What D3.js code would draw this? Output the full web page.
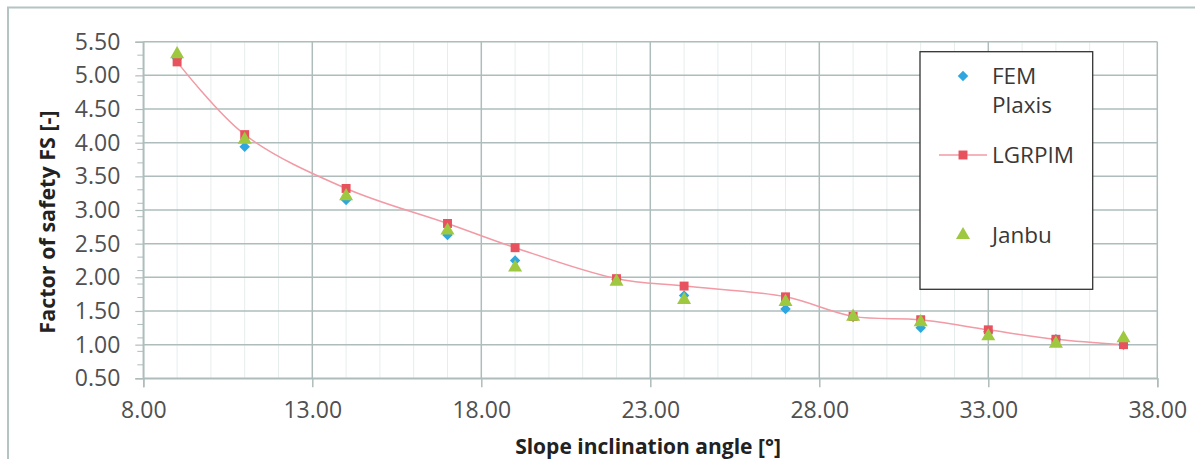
<!DOCTYPE html>
<html>
<head>
<meta charset="utf-8">
<script src="https://cdn.jsdelivr.net/npm/d3@7"></script>
<style>
  html, body { margin: 0; padding: 0; background: #fff; }
  svg { display: block; }
  text { font-family: "Open Sans", "DejaVu Sans", sans-serif; }
</style>
</head>
<body>
<svg id="chart" width="1195" height="459"></svg>
<script>
// ---- data ----
const angles = [9, 11, 14, 17, 19, 22, 24, 27, 29, 31, 33, 35, 37];
const femPlaxis = [5.25, 3.94, 3.15, 2.63, 2.25, 1.97, 1.73, 1.53, 1.41, 1.25, 1.19, 1.08, 1.00];
const lgrpim    = [5.20, 4.12, 3.32, 2.80, 2.44, 1.98, 1.87, 1.71, 1.42, 1.37, 1.22, 1.08, 1.00];
const janbu     = [5.30, 4.03, 3.19, 2.68, 2.13, 1.92, 1.65, 1.62, 1.40, 1.32, 1.11, 1.00, 1.08];
const xTicks = [8, 13, 18, 23, 28, 33, 38];
const yTicks = [0.5, 1.0, 1.5, 2.0, 2.5, 3.0, 3.5, 4.0, 4.5, 5.0, 5.5];
const seriesNames = ["FEM\nPlaxis", "LGRPIM", "Janbu"];
const xTitle = "Slope inclination angle [°]";
const yTitle = "Factor of safety FS [-]";

// ---- layout ----
const svg = d3.select("#chart");
const L = 143.3, R = 1157.3, T = 41.7, B = 378.3;
const x = d3.scaleLinear().domain([8, 38]).range([L, R]);
const y = d3.scaleLinear().domain([0.5, 5.5]).range([B, T]);

const gridCol = "#aebdbc";
const blue = "#2ea6df", red = "#e8525e", green = "#9dc83f", lineCol = "#f29aa5";
const tickFont = 23;

// outer frame (cropped at right/bottom)
svg.append("rect").attr("x", 8).attr("y", 7.5).attr("width", 1300).attr("height", 600)
  .attr("fill", "none").attr("stroke", "#b3c4c2").attr("stroke-width", 2);

// minor vertical gridlines
const minorX = d3.range(9, 38, 1).filter(v => (v - 8) % 5 !== 0);
svg.append("g").selectAll("line").data(minorX).join("line")
  .attr("x1", d => x(d)).attr("x2", d => x(d)).attr("y1", T).attr("y2", B)
  .attr("stroke", "#e6eded").attr("stroke-width", 1);

// major gridlines
svg.append("g").selectAll("line").data(yTicks).join("line")
  .attr("x1", L).attr("x2", R).attr("y1", d => y(d)).attr("y2", d => y(d))
  .attr("stroke", gridCol).attr("stroke-width", 1.5);
svg.append("g").selectAll("line").data(xTicks).join("line")
  .attr("x1", d => x(d)).attr("x2", d => x(d)).attr("y1", T).attr("y2", B)
  .attr("stroke", gridCol).attr("stroke-width", 1.5);

// y axis
const yAxis = d3.axisLeft(y).tickValues(yTicks).tickFormat(d3.format(".2f")).tickSize(8).tickPadding(15);
const gy = svg.append("g").attr("transform", `translate(${L},0)`).call(yAxis);
gy.select(".domain").attr("stroke", gridCol).attr("stroke-width", 1.5);
gy.selectAll(".tick line").attr("stroke", gridCol).attr("stroke-width", 1.2);
gy.selectAll(".tick text").attr("font-size", tickFont).attr("fill", "#505050")
  .attr("font-family", '"Open Sans", sans-serif');
// y minor ticks every 0.2
const yMinor = d3.range(0.7, 5.5, 0.2).map(v => +v.toFixed(2)).filter(v => Math.abs((v * 2) - Math.round(v * 2)) > 1e-6);
svg.append("g").selectAll("line").data(yMinor).join("line")
  .attr("x1", L - 6).attr("x2", L).attr("y1", d => y(d)).attr("y2", d => y(d))
  .attr("stroke", gridCol).attr("stroke-width", 1);

// x axis
const xAxis = d3.axisBottom(x).tickValues(xTicks).tickFormat(d3.format(".2f")).tickSize(9).tickPadding(14);
const gx = svg.append("g").attr("transform", `translate(0,${B})`).call(xAxis);
gx.select(".domain").attr("stroke", gridCol).attr("stroke-width", 1.5);
gx.selectAll(".tick line").attr("stroke", gridCol).attr("stroke-width", 1.5);
gx.selectAll(".tick text").attr("font-size", tickFont).attr("fill", "#505050")
  .attr("font-family", '"Open Sans", sans-serif');

// titles
svg.append("text").attr("x", 648).attr("y", 454).attr("text-anchor", "middle")
  .attr("font-size", 21).attr("font-weight", "bold").attr("fill", "#222").text(xTitle);
svg.append("text").attr("transform", `translate(55,222) rotate(-90)`).attr("text-anchor", "middle")
  .attr("font-size", 21.5).attr("font-weight", "bold").attr("fill", "#222").text(yTitle);

// series
const pts = (vals) => angles.map((a, i) => [a, vals[i]]);
const line = d3.line().x(d => x(d[0])).y(d => y(d[1])).curve(d3.curveCatmullRom.alpha(0.5));
svg.append("path").datum(pts(lgrpim)).attr("d", line)
  .attr("fill", "none").attr("stroke", lineCol).attr("stroke-width", 1.5);

const sq = d3.symbol().type(d3.symbolSquare).size(80);
const dia = d3.symbol().type(d3.symbolDiamond2).size(70);
const tri = d3.symbol().type(d3.symbolTriangle).size(85);

svg.append("g").selectAll("path").data(pts(femPlaxis)).join("path")
  .attr("d", dia).attr("transform", d => `translate(${x(d[0])},${y(d[1])})`).attr("fill", blue);
svg.append("g").selectAll("path").data(pts(lgrpim)).join("path")
  .attr("d", sq).attr("transform", d => `translate(${x(d[0])},${y(d[1])})`).attr("fill", red);
svg.append("g").selectAll("path").data(pts(janbu)).join("path")
  .attr("d", tri).attr("transform", d => `translate(${x(d[0])},${y(d[1]) - 1})`).attr("fill", green);

// legend
const lg = svg.append("g");
lg.append("rect").attr("x", 920).attr("y", 51.7).attr("width", 172.7).attr("height", 237.6)
  .attr("fill", "#fff").attr("stroke", "#333").attr("stroke-width", 1.3);
const legendText = (txt, yy) => {
  const lines = txt.split("\n");
  lines.forEach((ln, i) => {
    lg.append("text").attr("x", 992).attr("y", yy + i * 29).attr("font-size", 22.5)
      .attr("fill", "#383838").text(ln);
  });
};
lg.append("path").attr("d", dia).attr("transform", "translate(963,76)").attr("fill", blue);
legendText(seriesNames[0], 84);
lg.append("line").attr("x1", 939).attr("x2", 987).attr("y1", 155).attr("y2", 155)
  .attr("stroke", lineCol).attr("stroke-width", 1.5);
lg.append("path").attr("d", sq).attr("transform", "translate(963,155)").attr("fill", red);
legendText(seriesNames[1], 163);
lg.append("path").attr("d", tri).attr("transform", "translate(963,235)").attr("fill", green);
legendText(seriesNames[2], 243);
</script>
</body>
</html>
